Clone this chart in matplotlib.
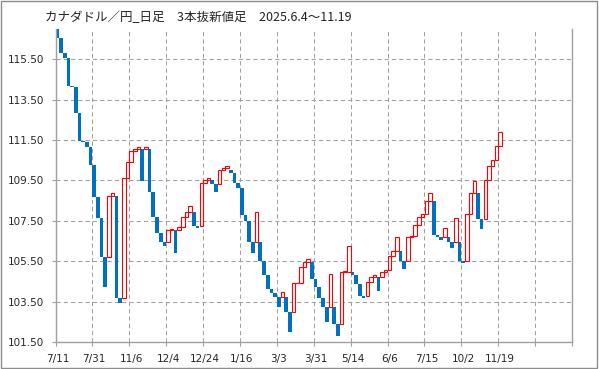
"""
CAD/JPY daily, 3-line break chart (2025.6.4 - 11.19)
"""

import matplotlib
matplotlib.use("Agg")
import matplotlib.pyplot as plt
from matplotlib.patches import Rectangle

plt.rcParams["font.family"] = ["Noto Sans CJK JP", "DejaVu Sans"]

# ── data: open / close of every line-break bar (in order) ─────────────────────
opens = [
    117.05, 116.53, 115.79, 115.54, 114.19, 114.14, 112.85, 111.47, 111.42, 111.14,
    110.25, 108.66, 107.63, 105.73, 105.73, 108.74, 108.74, 103.70, 103.70, 109.60,
    110.43, 110.96, 111.05, 111.05, 111.05, 111.05, 108.93, 107.70, 106.88, 106.47,
    106.47, 107.05, 107.05, 107.05, 107.18, 107.67, 107.94, 107.94, 107.26, 107.26,
    109.36, 109.52, 109.52, 109.31, 109.31, 110.02, 110.10, 110.02, 109.85, 109.36,
    109.11, 107.77, 107.51, 106.47, 106.47, 106.47, 105.51, 104.80, 104.11, 103.94,
    103.75, 103.75, 103.75, 102.96, 102.96, 104.41, 104.44, 105.23, 105.48, 105.48,
    104.61, 104.24, 103.67, 103.22, 103.22, 103.22, 102.38, 102.38, 104.98, 104.98,
    104.98, 104.82, 104.37, 103.80, 103.80, 104.49, 104.74, 104.74, 104.74, 104.95,
    105.07, 105.76, 106.01, 106.01, 105.53, 105.53, 106.69, 106.75, 107.28, 107.67,
    107.82, 108.48, 108.48, 106.80, 106.72, 106.72, 106.72, 106.47, 106.47, 106.47,
    105.53, 105.53, 107.82, 108.86, 108.86, 107.58, 107.58, 109.51, 110.21, 110.51,
    111.20,
]
closes = [
    116.53, 115.79, 115.54, 114.19, 114.14, 112.85, 111.47, 111.42, 111.14, 110.25,
    108.66, 107.63, 105.73, 104.24, 108.74, 108.86, 103.70, 103.45, 109.60, 110.43,
    110.96, 111.05, 111.17, 109.49, 111.17, 108.93, 107.70, 106.88, 106.47, 106.26,
    107.05, 107.10, 105.92, 107.18, 107.67, 107.94, 108.22, 107.26, 107.16, 109.36,
    109.52, 109.63, 109.31, 108.91, 110.02, 110.10, 110.20, 109.85, 109.36, 109.11,
    107.77, 107.51, 106.47, 105.89, 107.92, 105.51, 104.80, 104.11, 103.94, 103.75,
    103.22, 103.99, 102.96, 101.98, 104.41, 104.44, 105.23, 105.48, 105.60, 104.61,
    104.24, 103.67, 103.22, 102.51, 104.85, 102.38, 101.82, 104.98, 105.03, 106.25,
    104.82, 104.37, 103.80, 103.67, 104.49, 104.74, 104.80, 104.04, 104.95, 105.07,
    105.76, 106.01, 106.69, 105.53, 105.10, 106.69, 106.75, 107.28, 107.67, 107.82,
    108.48, 108.89, 106.80, 106.72, 106.55, 107.13, 106.47, 106.17, 107.63, 105.53,
    105.43, 107.82, 108.86, 109.47, 107.58, 107.08, 109.51, 110.21, 110.51, 111.20,
    111.88,
]
date_labels = ["7/11", "7/31", "11/6", "12/4", "12/24", "1/16", "3/3",
               "3/31", "5/14", "6/6", "7/15", "10/2", "11/19"]
label_step = 10          # one date label every 10 bars
n_slots = 140            # category slots on the x axis
y_ticks = [101.5, 103.5, 105.5, 107.5, 109.5, 111.5, 113.5, 115.5]

title = "カナダドル／円_日足　3本抜新値足　2025.6.4～11.19"

# ── figure ───────────────────────────────────────────────────────────────────
fig = plt.figure(figsize=(5.99, 3.69), dpi=100)
ax = fig.add_axes([0.0927, 0.0732, 0.8623, 0.8474])

grid_col = "#A0A0A0"

x = list(range(len(opens)))
for i, o, c in zip(x, opens, closes):
    lo, hi = min(o, c), max(o, c)
    if c < o:
        ax.bar(i, hi - lo, bottom=lo, width=1.0, color="#0070C0",
               linewidth=0, zorder=2)
    else:
        ax.bar(i, hi - lo, bottom=lo, width=0.95, facecolor="white",
               edgecolor="#FF0000", linewidth=0.8, zorder=3)

ax.set_xlim(-0.5, n_slots - 0.5)
ax.set_ylim(101.5, 116.98)

tick_font = {"family": "DejaVu Sans", "size": 7.5}

# y axis
ax.set_yticks(y_ticks)
ax.set_yticklabels([f"{v:.2f}" for v in y_ticks], fontdict=tick_font)
ax.tick_params(axis="y", length=3, width=0.8, color=grid_col, pad=5,
               labelcolor="#262626")

# x axis: boundary ticks + centered date labels
ax.set_xticks([-0.5 + label_step * k for k in range(n_slots // label_step + 1)])
ax.set_xticklabels([])
ax.tick_params(axis="x", which="major", length=3, width=0.8, color=grid_col)
ax.set_xticks([label_step * k for k in range(len(date_labels))], minor=True)
ax.set_xticklabels(date_labels, minor=True, fontdict=tick_font)
ax.tick_params(axis="x", which="minor", length=0, pad=9, labelcolor="#262626")

ax.grid(True, which="major", color=grid_col, linestyle=(0, (4, 3)),
        linewidth=0.75)
ax.set_axisbelow(True)

for side in ["left", "bottom", "right"]:
    ax.spines[side].set_color(grid_col)
    ax.spines[side].set_linewidth(1.0)
ax.spines["top"].set_visible(False)

fig.text(0.075, 0.953, title, fontsize=9, color="#222222", va="center")

# outer frame
fig.patches.append(Rectangle((0.002, 0.003), 0.995, 0.994, transform=fig.transFigure,
                             fill=False, edgecolor="#8C8C8C", linewidth=1.0))

fig.savefig("out.png", dpi=100)
